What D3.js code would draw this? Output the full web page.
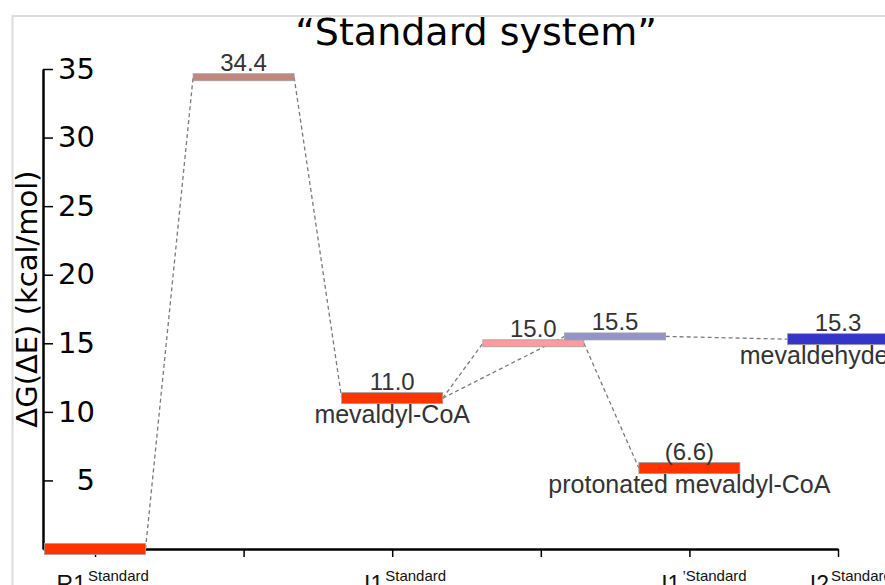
<!DOCTYPE html>
<html><head><meta charset="utf-8">
<script src="https://cdn.jsdelivr.net/npm/d3@7"></script>
<style>html,body{margin:0;padding:0;background:#fff;overflow:hidden}</style>
</head><body>
<script>
// ---- data ----
const stageTicks = [1, 2, 3, 4, 5, 6];
const stageLabels = ['R1', '', 'I1', '', 'I1', 'I2'];
const stageSup = ['Standard', '', 'Standard', '', '\u2019Standard', 'Standard'];
const yTicks = [5, 10, 15, 20, 25, 30, 35];

const levelIds = ['R1', 'TS1', 'I1', 'TS2a', 'TS2b', 'I1p', 'I2'];
const levelStage = [1, 2, 3, 3.95, 4.5, 5, 6];
const levelEnergy = [0, 34.4, 11.0, 15.0, 15.5, 5.9, 15.3];
const levelValueText = ['', '34.4', '11.0', '15.0', '15.5', '(6.6)', '15.3'];
const levelSpecies = ['', '', 'mevaldyl-CoA', '', '', 'protonated mevaldyl-CoA', 'mevaldehyde'];
const levelKind = ['min', 'ts', 'min', 'ts', 'ts', 'min', 'min'];
const levelColor = ['#ff3300', '#c4857b', '#ff3300', '#ff9aa0', '#9494cc', '#ff3300', '#3434c8'];
const linkFrom = ['R1', 'TS1', 'I1', 'I1', 'TS2a', 'TS2b'];
const linkTo = ['TS1', 'I1', 'TS2a', 'TS2b', 'I1p', 'I2'];

// ---- layout ----
const W = 885, H = 585;
const svg = d3.select('body').append('svg').attr('width', W).attr('height', H);
svg.append('rect').attr('width', W).attr('height', H).attr('fill', '#fff');
// frame
svg.append('rect').attr('x', 12.5).attr('y', 16).attr('width', W + 20).attr('height', H + 20)
  .attr('fill', 'none').attr('stroke', '#dcdcdc').attr('stroke-width', 2);

const x = d3.scaleLinear().domain([0.65, 6]).range([43, 838]);
const y = d3.scaleLinear().domain([0, 35]).range([549, 69]);
const halfW = 0.34;

const levels = levelIds.map((id, i) => ({
  id, s: levelStage[i], e: levelEnergy[i], txt: levelValueText[i], sp: levelSpecies[i],
  kind: levelKind[i], color: levelColor[i]
}));
const byId = Object.fromEntries(levels.map(d => [d.id, d]));

// title
svg.append('text').attr('x', 476).attr('y', 45).attr('text-anchor', 'middle')
  .attr('font-family', 'DejaVu Sans').attr('font-size', 38).attr('fill', '#000')
  .text('\u201CStandard system\u201D');

// y axis
const yAxis = d3.axisRight(y).tickValues(yTicks).tickSize(10).tickSizeOuter(0);
const gy = svg.append('g').attr('transform', 'translate(43,0)').call(yAxis);
gy.select('.domain').attr('stroke-width', 2.5);
gy.selectAll('.tick line').attr('stroke-width', 1.5);
gy.selectAll('.tick text').attr('text-anchor', 'end').attr('x', 52)
  .attr('font-family', 'DejaVu Sans').attr('font-size', 29).attr('fill', '#000');

// x axis
const xAxis = d3.axisBottom(x).tickValues(stageTicks).tickSize(8).tickSizeOuter(0).tickFormat('');
const gx = svg.append('g').attr('transform', 'translate(0,549)').call(xAxis);
gx.select('.domain').attr('stroke-width', 2.5);
gx.selectAll('.tick line').attr('stroke-width', 1.5);

// x tick labels
stageTicks.forEach((t, i) => {
  if (!stageLabels[i]) return;
  svg.append('text').attr('x', x(t) - 9).attr('y', 592).attr('text-anchor', 'end')
    .attr('font-family', 'Liberation Sans, Arial, sans-serif').attr('font-size', 23).attr('fill', '#111')
    .text(stageLabels[i]);
  svg.append('text').attr('x', x(t) - 7).attr('y', 581).attr('text-anchor', 'start')
    .attr('font-family', 'Liberation Sans, Arial, sans-serif').attr('font-size', 15).attr('fill', '#111')
    .text(stageSup[i]);
});

// y axis title
svg.append('text').attr('transform', 'translate(37,299) rotate(-90)').attr('text-anchor', 'middle')
  .attr('font-family', 'DejaVu Sans').attr('font-size', 29).attr('fill', '#000')
  .text('\u0394G(\u0394E) (kcal/mol)');

// connectors
const links = linkFrom.map((f, i) => ({ a: byId[f], b: byId[linkTo[i]] }));
svg.append('g').selectAll('line').data(links).join('line')
  .attr('x1', d => x(d.a.s + halfW)).attr('y1', d => y(d.a.e))
  .attr('x2', d => x(d.b.s - halfW)).attr('y2', d => y(d.b.e))
  .attr('stroke', '#7a7a7a').attr('stroke-width', 1.3).attr('stroke-dasharray', '4,3');

// levels
const thick = k => k === 'ts' ? 7 : 11;
svg.append('g').selectAll('rect').data(levels).join('rect')
  .attr('x', d => x(d.s - halfW)).attr('width', d => x(d.s + halfW) - x(d.s - halfW))
  .attr('y', d => y(d.e) - thick(d.kind) / 2).attr('height', d => thick(d.kind))
  .attr('fill', d => d.color).attr('stroke', '#a0a0a0').attr('stroke-width', 0.8);

// value labels
svg.append('g').selectAll('text').data(levels.filter(d => d.txt)).join('text')
  .attr('x', d => x(d.s)).attr('y', d => y(d.e) - thick(d.kind) / 2 - 3)
  .attr('text-anchor', 'middle').attr('font-family', 'Liberation Sans, Arial, sans-serif')
  .attr('font-size', 24).attr('fill', '#333').text(d => d.txt);

// species labels
const spAnchor = d => d.id === 'I2' ? 'end' : 'middle';
const spX = d => d.id === 'I2' ? x(d.s + halfW) : x(d.s);
svg.append('g').selectAll('text').data(levels.filter(d => d.sp)).join('text')
  .attr('x', spX).attr('y', d => y(d.e) + thick(d.kind) / 2 + 19)
  .attr('text-anchor', spAnchor).attr('font-family', 'Liberation Sans, Arial, sans-serif')
  .attr('font-size', 25).attr('fill', '#333').text(d => d.sp);
</script>
</body></html>
